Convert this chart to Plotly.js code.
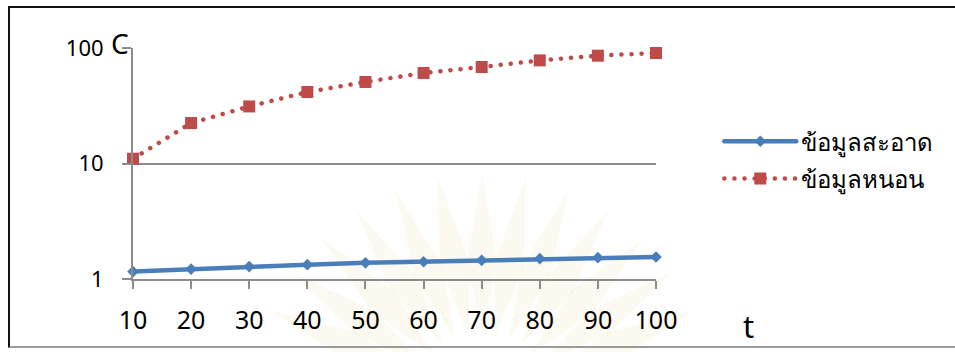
<!DOCTYPE html>
<html>
<head>
<meta charset="utf-8">
<script src="https://cdn.plot.ly/plotly-3.0.1.min.js"></script>
<style>
  html, body { margin: 0; padding: 0; background: #fff; }
  #wrap { position: relative; width: 955px; height: 352px; }
  #chart { position: absolute; left: 0; top: 0; width: 955px; height: 352px; }
  #frame {
    position: absolute; left: 8px; top: 6px; width: 947px; height: 342px;
    border-top: 2px solid #111; border-left: 2px solid #111; border-bottom: 2px solid #9a9a9a;
    box-sizing: border-box; pointer-events: none;
  }
  /* round caps turn the near-zero dash segments into round dots */
  #chart path.js-line { stroke-linecap: round; }
</style>
</head>
<body>
<div id="wrap">
  <div id="chart"></div>
  <div id="frame"></div>
</div>
<script>
// Time steps (x categories)
const tValues = [10, 20, 30, 40, 50, 60, 70, 80, 90, 100];
const tickLabels = ['10', '20', '30', '40', '50', '60', '70', '80', '90', '100'];

// Series
const cleanName = 'ข้อมูลสะอาด';
const cleanValues = [1.16, 1.22, 1.28, 1.33, 1.38, 1.41, 1.45, 1.50, 1.53, 1.55];
const noisyName = 'ข้อมูลหนอน';
const noisyValues = [11.0, 22.4, 31.2, 41.6, 50.8, 60.8, 68.5, 78.1, 85.8, 90.5];

// Log axis ticks
const yTickVals = [1, 10, 100];
const yTickText = ['1', '10', '100'];

const FONT = '"Noto Sans", "DejaVu Sans", sans-serif';
const GRID = '#8c8c8c';

// Plot-area geometry in pixels (used to place the faint sunburst emblem in paper units)
const PX_L = 133, PX_R = 656, PX_T = 48.3, PX_B = 279.3;
function toPaper(px, py) {
  return [(px - PX_L) / (PX_R - PX_L), (PX_B - py) / (PX_B - PX_T)];
}

// Faint sunburst emblem behind the plot: spindle-shaped petals radiating from a point below the axis
function emblemShapes() {
  const shapes = [];
  const cx = 482, cy = 405;
  const r0 = 70, r1 = 232, halfW = 15;
  for (let a = -66; a <= 66; a += 11) {
    const th = a * Math.PI / 180;
    const dx = Math.sin(th), dy = -Math.cos(th);
    const nx = Math.cos(th), ny = Math.sin(th);
    const rm = 0.62 * r1;
    const pts = [
      [cx + dx * r0, cy + dy * r0],
      [cx + dx * rm + nx * halfW, cy + dy * rm + ny * halfW],
      [cx + dx * r1, cy + dy * r1],
      [cx + dx * rm - nx * halfW, cy + dy * rm - ny * halfW]
    ].map(p => toPaper(p[0], p[1]));
    const path = 'M' + pts[0].join(',') +
      ' L' + pts[1].join(',') + ' L' + pts[2].join(',') + ' L' + pts[3].join(',') + ' Z';
    shapes.push({
      type: 'path', xref: 'paper', yref: 'paper', layer: 'below', path: path,
      fillcolor: 'rgba(236, 218, 150, 0.14)', line: { width: 0 }
    });
  }
  return shapes;
}

const traces = [
  {
    x: tValues, y: cleanValues, name: cleanName, type: 'scatter', mode: 'lines+markers',
    legendgroup: 'a', cliponaxis: false,
    line: { color: '#4A7EBB', width: 4.5 },
    marker: { symbol: 'diamond', size: 9, color: '#4A7EBB' }
  },
  {
    x: tValues, y: noisyValues, name: noisyName, type: 'scatter', mode: 'lines+markers',
    legendgroup: 'b', cliponaxis: false,
    line: { color: '#BE4B48', width: 4.5, dash: '0.1px,10px' },
    marker: { symbol: 'square', size: 12, color: '#BE4B48' }
  }
];

const layout = {
  width: 955, height: 352,
  margin: { l: PX_L, r: 955 - PX_R, t: PX_T, b: 352 - PX_B, pad: 0 },
  paper_bgcolor: '#ffffff',
  plot_bgcolor: 'rgba(0,0,0,0)',
  font: { family: FONT, color: '#000' },
  showlegend: true,
  legend: {
    x: 1.121, xanchor: 'left', y: 0.692, yanchor: 'top',
    font: { family: FONT, size: 24, color: '#000' },
    itemwidth: 72, tracegroupgap: 3, traceorder: 'grouped',
    bgcolor: 'rgba(0,0,0,0)'
  },
  xaxis: {
    type: 'linear', range: [10, 100], fixedrange: true,
    tickvals: tValues, ticktext: tickLabels,
    showgrid: false, zeroline: false,
    showline: true, linecolor: GRID, linewidth: 2,
    ticks: 'outside', ticklen: 8, tickwidth: 2, tickcolor: GRID,
    ticklabelstandoff: 10,
    tickfont: { family: FONT, size: 25, color: '#000' }
  },
  yaxis: {
    type: 'log', range: [0, 2], fixedrange: true,
    tickvals: yTickVals, ticktext: yTickText,
    showgrid: true, gridcolor: GRID, gridwidth: 2, zeroline: false,
    showline: true, linecolor: GRID, linewidth: 2,
    ticks: 'outside', ticklen: 9, tickwidth: 2, tickcolor: GRID,
    ticklabelstandoff: 14,
    tickfont: { family: FONT, size: 22, color: '#000' }
  },
  shapes: emblemShapes(),
  annotations: [
    { text: 'C', xref: 'paper', yref: 'paper', x: -0.025, y: 1.02, xanchor: 'center', yanchor: 'middle',
      showarrow: false, font: { family: FONT, size: 28, color: '#000' } },
    { text: 't', xref: 'paper', yref: 'paper', x: 1.176, y: -0.205, xanchor: 'center', yanchor: 'middle',
      showarrow: false, font: { family: FONT, size: 31, color: '#000' } }
  ]
};

Plotly.newPlot('chart', traces, layout, { staticPlot: true, displayModeBar: false });
</script>
</body>
</html>
